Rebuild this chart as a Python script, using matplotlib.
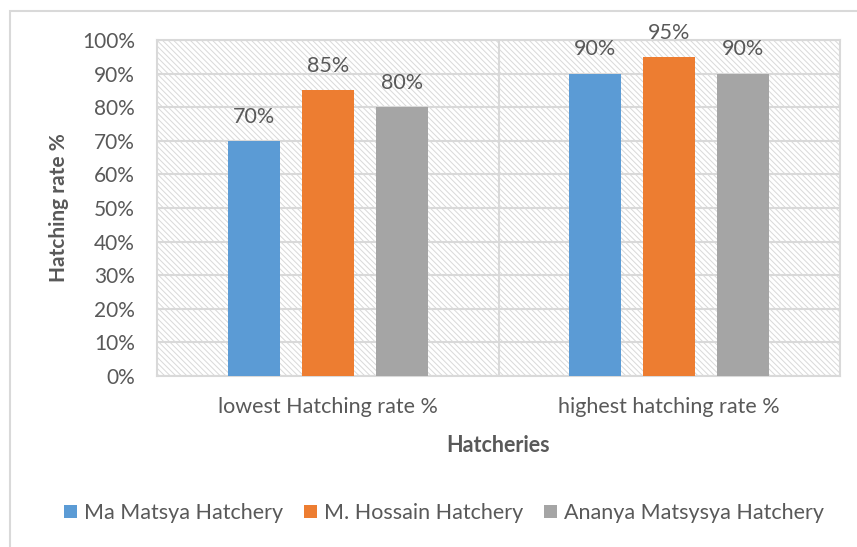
import numpy as np
import matplotlib.pyplot as plt
from matplotlib.patches import Rectangle

plt.rcParams['font.family'] = ['Lato', 'DejaVu Sans']
plt.rcParams['hatch.color'] = '#d4d4d4'
plt.rcParams['hatch.linewidth'] = 0.7

categories = ['lowest Hatching rate %', 'highest hatching rate %']
hatcheries = ['Ma Matsya Hatchery', 'M. Hossain Hatchery', 'Ananya Matsysya Hatchery']
rates = {
    'Ma Matsya Hatchery': [70, 90],
    'M. Hossain Hatchery': [85, 95],
    'Ananya Matsysya Hatchery': [80, 90],
}
colours = ['#5b9bd5', '#ed7d31', '#a5a5a5']
yticks = np.arange(0, 101, 10)

text_col = '#595959'
grid_col = '#d9d9d9'

fig = plt.figure(figsize=(8.57, 5.47), dpi=100)
fig.patches.append(Rectangle((10 / 857, -0.1), 1.2, 1 - 11 / 547 + 0.1,
                             transform=fig.transFigure, fill=False,
                             edgecolor='#d9d9d9', linewidth=1.5))

ax = fig.add_axes([157 / 857, 1 - 376 / 547, (840 - 157) / 857, (376 - 40) / 547])
ax.set_xlim(-0.5, 1.5)
ax.set_ylim(0, 100)

# hatched background of the plot area
ax.add_patch(Rectangle((0, 0), 1, 1, transform=ax.transAxes, facecolor='white',
                       hatch='\\' * 6, edgecolor=grid_col, linewidth=0, zorder=0))

for y in yticks:
    ax.axhline(y, color=grid_col, linewidth=1.5, zorder=1)
ax.axvline(0.5, color=grid_col, linewidth=1.5, zorder=1)

x = np.arange(len(categories))
offset = 0.217
width = 0.152
for i, name in enumerate(hatcheries):
    xs = x + (i - 1) * offset
    bars = ax.bar(xs, rates[name], width, color=colours[i], label=name, zorder=3)
    for b, v in zip(bars, rates[name]):
        ax.text(b.get_x() + b.get_width() / 2, v + 7.2, f'{v}%', ha='center', va='center',
                fontsize=15.5, color=text_col, zorder=4)

for s in ax.spines.values():
    s.set_color(grid_col)
    s.set_linewidth(1.5)

ax.set_yticks(yticks)
ax.set_yticklabels([f'{v}%' for v in yticks], fontsize=15, color=text_col)
ax.set_xticks(x)
ax.set_xticklabels(categories, fontsize=15.5, color=text_col)
ax.tick_params(length=0)
ax.tick_params(axis='y', pad=16)
ax.tick_params(axis='x', pad=15)

ax.set_ylabel('Hatching rate %', fontsize=15, fontweight='bold', color=text_col, labelpad=9)
ax.set_xlabel('Hatcheries', fontsize=15.5, fontweight='bold', color=text_col, labelpad=13)

fig.legend(loc='center', bbox_to_anchor=(0.518, 1 - 513 / 547), ncol=3, frameon=False,
           fontsize=15.5, labelcolor=text_col, handlelength=0.6, handleheight=0.6,
           handletextpad=0.3, columnspacing=1.0)

fig.savefig('out.png', dpi=100)
